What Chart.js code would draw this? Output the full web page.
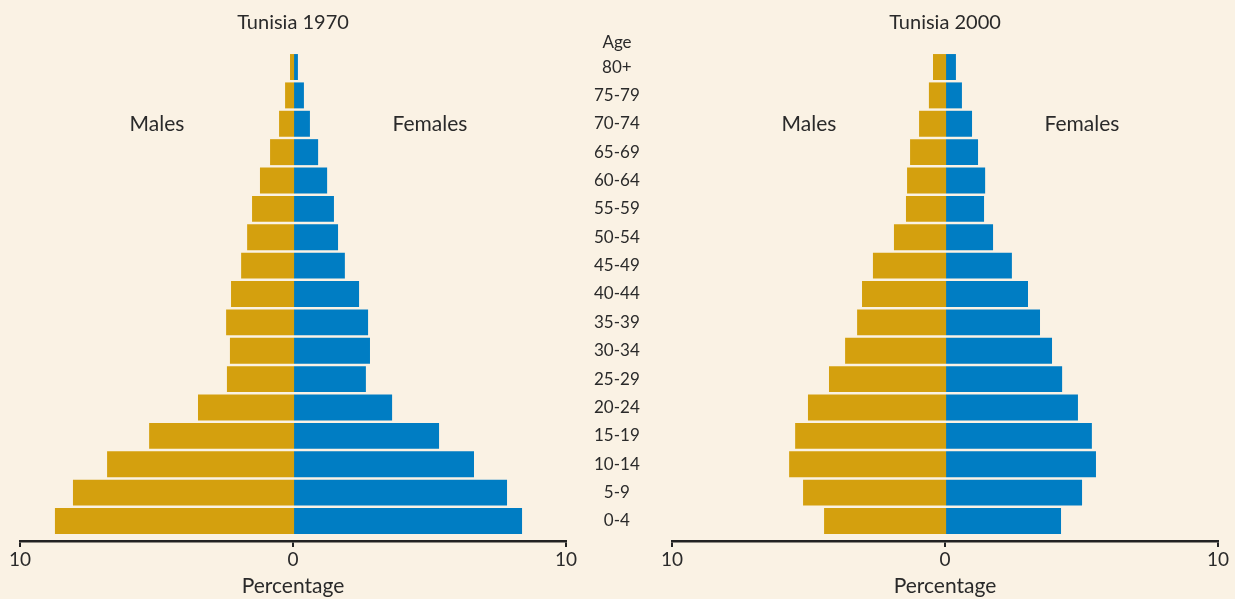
<!DOCTYPE html>
<html>
<head>
<meta charset="utf-8">
<script src="https://cdn.jsdelivr.net/npm/chart.js@4.4.0/dist/chart.umd.min.js"></script>
<style>
  html, body { margin: 0; padding: 0; background: #FAF2E4; }
  #wrap { position: relative; width: 1235px; height: 599px; background: #FAF2E4; overflow: hidden;
          font-family: Lato, "Noto Sans", sans-serif; color: #2a2a2a; }
  canvas { position: absolute; top: 0; }
  #c1 { left: 0; }
  #c2 { left: 660px; }
  .lbl { position: absolute; transform: translate(-50%, -50%); white-space: nowrap; line-height: 1; }
</style>
</head>
<body>
<div id="wrap">
  <canvas id="c1" width="670" height="599"></canvas>
  <canvas id="c2" width="575" height="599"></canvas>
  <div class="lbl" style="left:293px; top:21px; font-size:20px;">Tunisia 1970</div>
  <div class="lbl" style="left:945px; top:21px; font-size:20px;">Tunisia 2000</div>
  <div class="lbl" style="left:617px; top:41px; font-size:17px;">Age</div>
  <div class="lbl" style="left:157px; top:122px; font-size:21px;">Males</div>
  <div class="lbl" style="left:430px; top:122px; font-size:21px;">Females</div>
  <div class="lbl" style="left:809px; top:122px; font-size:21px;">Males</div>
  <div class="lbl" style="left:1082px; top:122px; font-size:21px;">Females</div>
</div>
<script>
// ---- Data (age groups from youngest to oldest) ----
const ages = ["0-4","5-9","10-14","15-19","20-24","25-29","30-34","35-39","40-44",
              "45-49","50-54","55-59","60-64","65-69","70-74","75-79","80+"];
const males1970   = [8.72, 8.06, 6.81, 5.27, 3.48, 2.42, 2.31, 2.45, 2.27, 1.90, 1.68, 1.50, 1.21, 0.84, 0.51, 0.29, 0.11];
const females1970 = [8.39, 7.84, 6.63, 5.35, 3.63, 2.67, 2.82, 2.75, 2.42, 1.90, 1.65, 1.50, 1.25, 0.92, 0.62, 0.40, 0.18];
const males2000   = [4.43, 5.20, 5.71, 5.49, 5.02, 4.25, 3.66, 3.22, 3.04, 2.64, 1.87, 1.43, 1.39, 1.28, 0.95, 0.59, 0.44];
const females2000 = [4.25, 5.02, 5.53, 5.38, 4.87, 4.29, 3.92, 3.48, 3.04, 2.45, 1.76, 1.43, 1.47, 1.21, 0.99, 0.62, 0.40];
const xTicks = [-10, 0, 10];

const GOLD = '#D4A00E';
const BLUE = '#007DC3';
const INK = '#2a2a2a';

Chart.defaults.font.family = 'Lato, "Noto Sans", sans-serif';
Chart.defaults.color = INK;

function makeChart(id, males, females, pad, showAges) {
  return new Chart(document.getElementById(id), {
    type: 'bar',
    data: {
      datasets: [
        // male bars start a hair right of zero so they tuck under the female bars (no seam at 0)
        { label: 'Males', data: males.map((v, i) => ({ x: -v, y: i })), backgroundColor: GOLD, borderWidth: 0, base: 0.04 },
        { label: 'Females', data: females.map((v, i) => ({ x: v, y: i })), backgroundColor: BLUE, borderWidth: 0 }
      ]
    },
    options: {
      indexAxis: 'y',
      responsive: false,
      animation: false,
      layout: { padding: { left: pad.left, right: pad.right, top: 50, bottom: 0 } },
      plugins: { legend: { display: false }, tooltip: { enabled: false } },
      datasets: { bar: { barPercentage: 0.915, categoryPercentage: 1 } },
      scales: {
        x: {
          type: 'linear', min: -10, max: 10, stacked: true,
          afterBuildTicks: s => { s.ticks = xTicks.map(v => ({ value: v })); },
          ticks: { callback: v => String(Math.abs(v)), font: { size: 19 }, color: INK, padding: 1, maxRotation: 0, autoSkip: false },
          grid: { display: true, drawOnChartArea: false, drawTicks: true, tickLength: 6, color: '#222', lineWidth: 2 },
          border: { display: true, color: '#222', width: 2.5 },
          title: { display: true, text: 'Percentage', font: { size: 21 }, color: INK, padding: { top: 0, bottom: 0 } },
          afterFit: s => { s.height = 58; }
        },
        y: {
          type: 'linear', min: -0.705, max: 16.6, stacked: true, offset: false,
          position: 'right', display: showAges,
          afterBuildTicks: s => { s.ticks = ages.map((a, i) => ({ value: i })); },
          ticks: { callback: v => ages[v], font: { size: 17 }, color: INK, padding: 20, crossAlign: 'center', autoSkip: false },
          grid: { display: false, offset: false },
          border: { display: false },
          afterFit: s => { s.width = showAges ? 104 : 0; }
        }
      }
    }
  });
}

makeChart('c1', males1970, females1970, { left: 20, right: 0 }, true);
makeChart('c2', males2000, females2000, { left: 12, right: 17 }, false);
</script>
</body>
</html>
